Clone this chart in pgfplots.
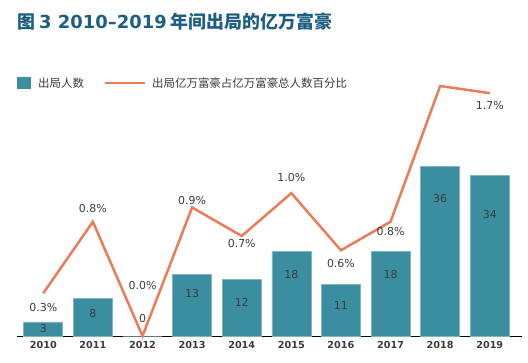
\documentclass[border=0pt]{standalone}
\usepackage{pgfplots}
\pgfplotsset{compat=1.18}
\usepackage{fontspec}
\setmainfont{Noto Sans CJK SC}
\newfontfamily\num{DejaVu Sans}
\definecolor{barc}{HTML}{3A8E9F}
\definecolor{linec}{HTML}{EC7B57}
\definecolor{titlec}{HTML}{1D5E82}
\definecolor{txt}{HTML}{3C3C3C}
\pgfplotstableread{
x y
0 3
1 8
2 0
3 13
4 12
5 18
6 11
7 18
8 36
9 34
}\bars
\pgfplotstableread{
x y label
0 1.5 3
1 4.7 8
2 3.8 0
3 9.1 13
4 7.2 12
5 13.1 18
6 6.4 11
7 13.1 18
8 29.2 36
9 25.8 34
}\barlabels
\pgfplotstableread{
x y
0 0.3
1 0.8
2 0.0
3 0.9
4 0.7
5 1.0
6 0.6
7 0.8
8 1.75
9 1.7
}\pct
\pgfplotstableread{
x y label
0 0.196 0.3\%
1 0.889 0.8\%
2 0.35 0.0\%
3 0.945 0.9\%
4 0.644 0.7\%
5 1.106 1.0\%
6 0.504 0.6\%
7 0.728 0.8\%
9 1.61 1.7\%
}\pctlabels
\begin{document}
\begin{tikzpicture}[x=1bp,y=1bp]
\useasboundingbox (0,0) rectangle (528,362);
\node[anchor=west, font=\bfseries\fontsize{18}{20}\selectfont, text=titlec, inner sep=0] at (17,340) {图 {\num\bfseries 3 2010–2019} 年间出局的亿万富豪};
% legend
\fill[barc] (17,273) rectangle (31,285);
\node[anchor=west, font=\fontsize{11.5}{13}\selectfont, text=txt, inner sep=0] at (38,279) {出局人数};
\draw[linec, line width=2.5bp] (105,279) -- (145,279);
\node[anchor=west, font=\fontsize{11.5}{13}\selectfont, text=txt, inner sep=0] at (152,279) {出局亿万富豪占亿万富豪总人数百分比};
\pgfplotsset{myax/.style={scale only axis, width=505bp, height=250bp,
  at={(17bp,26bp)}, anchor=south west, xmin=-0.53, xmax=9.65, clip=false}}
\begin{axis}[myax, ymin=0, ymax=52.97,
  axis x line*=bottom, axis y line=none,
  x axis line style={black, line width=1bp, -},
  xtick={0,...,9}, xticklabels={2010,2011,2012,2013,2014,2015,2016,2017,2018,2019},
  major tick length=0,
  xticklabel style={font=\num\bfseries\fontsize{9.7}{11}\selectfont, text=txt, yshift=-2bp},
  ]
\addplot[ybar, bar width=39bp, fill=barc, draw=barc!65!white, line width=0.6bp] table[x=x,y=y] {\bars};
\addplot[only marks, mark=none, nodes near coords, point meta=explicit symbolic,
  every node near coord/.style={anchor=center, font=\num\fontsize{11}{12}\selectfont, text=txt}]
  table[x=x,y=y,meta=label] {\barlabels};
\end{axis}
\begin{axis}[myax, ymin=0, ymax=1.75, hide axis]
\addplot[linec, line width=2.5bp, mark=none] table[x=x,y=y] {\pct};
\addplot[only marks, mark=none, nodes near coords, point meta=explicit symbolic,
  every node near coord/.style={anchor=center, font=\num\fontsize{11}{12}\selectfont, text=txt}]
  table[x=x,y=y,meta=label] {\pctlabels};
\end{axis}
\end{tikzpicture}
\end{document}
